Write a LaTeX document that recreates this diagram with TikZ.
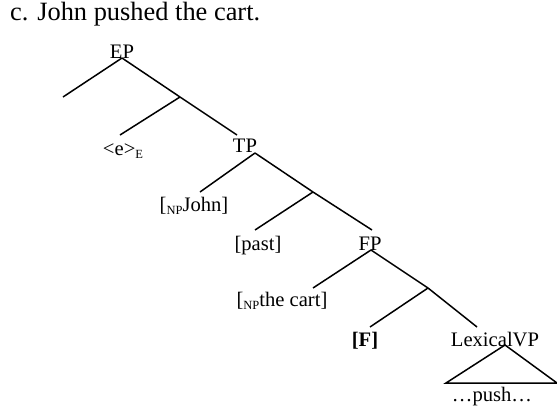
\documentclass[tikz,border=0pt]{standalone}
\usepackage{fontspec}
\setmainfont{Liberation Serif}
\newcommand{\lowsub}[1]{\raisebox{-3pt}{\fontsize{12.5pt}{13pt}\selectfont #1}}
\begin{document}
\begin{tikzpicture}[x=1pt,y=-1pt]
		\tikzstyle{every node}=[font=\fontsize{20.6pt}{24pt}\selectfont, inner sep=0pt]
		\tikzstyle{branch}=[line width=1.5pt]
		\useasboundingbox (0,0) rectangle (557,407);
		
		% labels
		\node[anchor=base west, font=\fontsize{26.4pt}{30pt}\selectfont] (title) at (10,20) {c. John pushed the cart.};
		\node[anchor=base] (ep) at (122,58) {EP};
		\node[anchor=base] (e) at (123,155) {<e>\lowsub{E}};
		\node[anchor=base] (tp) at (245,152) {TP};
		\node[anchor=base] (john) at (194,211) {[\lowsub{NP}John]};
		\node[anchor=base] (past) at (258,250) {[past]};
		\node[anchor=base] (fp) at (370,250) {FP};
		\node[anchor=base] (cart) at (282,306) {[\lowsub{NP}the cart]};
		\node[anchor=base] (f) at (365,346) {\textbf{[F]}};
		\node[anchor=base] (lexvp) at (495,346) {LexicalVP};
		\node[anchor=base] (push) at (492,401) {\dots push\dots};
		
		% branch points
		\coordinate (ep-b) at (122,58);
		\coordinate (ep-l) at (63,97);
		\coordinate (m1) at (180,97);
		\coordinate (e-t) at (120,135);
		\coordinate (tp-t) at (237,135);
		\coordinate (tp-b) at (255,153);
		\coordinate (john-t) at (200,192);
		\coordinate (m2) at (313,192);
		\coordinate (past-t) at (255,230);
		\coordinate (fp-t) at (372,230);
		\coordinate (fp-b) at (371,250);
		\coordinate (cart-t) at (313,288);
		\coordinate (m3) at (428,288);
		\coordinate (f-t) at (370,327);
		\coordinate (lexvp-t) at (477,327);
		\coordinate (tri-t) at (505,345);
		\coordinate (tri-l) at (446,383);
		\coordinate (tri-r) at (557,383);
		
		\draw[branch] (ep-b) -- (ep-l);
		\draw[branch] (ep-b) -- (m1);
		\draw[branch] (m1) -- (e-t);
		\draw[branch] (m1) -- (tp-t);
		\draw[branch] (tp-b) -- (john-t);
		\draw[branch] (tp-b) -- (m2);
		\draw[branch] (m2) -- (past-t);
		\draw[branch] (m2) -- (fp-t);
		\draw[branch] (fp-b) -- (cart-t);
		\draw[branch] (fp-b) -- (m3);
		\draw[branch] (m3) -- (f-t);
		\draw[branch] (m3) -- (lexvp-t);
		\draw[branch] (tri-t) -- (tri-l) -- (tri-r) -- cycle;
		
	\end{tikzpicture}
\end{document}
